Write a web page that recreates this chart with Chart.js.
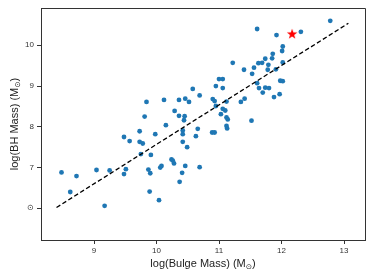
<!DOCTYPE html>
<html>
<head>
<meta charset="utf-8">
<script src="https://cdn.jsdelivr.net/npm/chart.js@4.4.0/dist/chart.umd.min.js"></script>
<style>
html, body { margin: 0; padding: 0; background: #fff; }
</style>
</head>
<body>
<canvas id="myChart" width="374" height="280"></canvas>
<script>
// values
const bulgeMass = [8.48, 8.72, 8.62, 9.04, 9.17, 9.25, 9.48, 9.51, 9.48, 9.57,
    9.73, 9.73, 9.78, 9.75, 9.91, 9.98, 9.81, 9.84, 10.12, 10.15,
    9.87, 9.90, 9.89, 10.04, 10.06, 10.08, 10.24, 10.26, 10.28, 10.37,
    10.41, 10.46, 10.29, 10.36, 10.46, 10.52, 10.58, 10.69, 10.36, 10.45,
    10.44, 10.42, 10.42, 10.42, 10.49, 10.63, 10.66, 10.69, 11.22, 11.40,
    11.00, 11.06, 11.06, 10.95, 10.90, 10.93, 10.95, 11.12, 11.06, 11.10,
    11.03, 11.12, 11.14, 11.12, 11.13, 10.89, 10.93, 11.52, 11.35, 11.41,
    11.53, 11.56, 11.63, 11.69, 11.74, 11.79, 11.78, 11.61, 11.64, 11.70,
    11.74, 11.80, 11.61, 11.92, 12.02, 12.01, 11.86, 11.85, 12.02, 11.91,
    11.98, 12.02, 11.97, 11.88, 12.31, 12.78];
const bhMass = [6.88, 6.79, 6.40, 6.94, 6.06, 6.93, 6.84, 6.96, 7.75, 7.65,
    7.89, 7.63, 7.59, 7.33, 7.31, 7.82, 8.25, 8.61, 8.66, 8.04,
    6.95, 6.86, 6.41, 6.20, 7.00, 7.04, 7.20, 7.17, 7.10, 6.65,
    6.87, 7.04, 8.39, 8.66, 8.69, 8.61, 8.93, 8.77, 8.27, 8.26,
    8.16, 7.91, 7.82, 7.63, 7.50, 7.77, 7.95, 7.01, 9.57, 9.40,
    9.17, 9.17, 8.95, 9.00, 8.68, 8.63, 8.51, 8.62, 8.44, 8.40,
    8.31, 8.23, 8.18, 8.02, 7.96, 7.86, 7.86, 8.15, 8.61, 8.69,
    9.30, 9.45, 9.56, 9.57, 9.67, 9.52, 9.40, 9.07, 8.95, 8.84,
    8.96, 8.95, 10.40, 10.25, 9.97, 9.86, 9.79, 9.68, 9.58, 9.41,
    9.13, 9.12, 8.80, 8.73, 10.33, 10.60];
const fitX = [8.40, 13.07];
const fitY = [6.02, 10.54];
const starX = [12.17];
const starY = [10.28];
const xTicks = [9, 10, 11, 12, 13];
const yTicks = [6, 7, 8, 9, 10];
const yTickLabels = ['\u2299', '7', '8', '9', '10'];

// filled red star marker
function makeStar() {
    const c = document.createElement('canvas');
    c.width = 12; c.height = 12;
    const g = c.getContext('2d');
    g.beginPath();
    for (let i = 0; i < 10; i++) {
        const r = i % 2 === 0 ? 5.5 : 2.2;
        const a = -Math.PI / 2 + i * Math.PI / 5;
        const px = 6 + r * Math.cos(a), py = 6.3 + r * Math.sin(a);
        if (i === 0) g.moveTo(px, py); else g.lineTo(px, py);
    }
    g.closePath();
    g.fillStyle = '#ff0000';
    g.fill();
    return c;
}

function drawSubTitle(ctx, main, sub, tail, x, y, rotate) {
    ctx.save();
    ctx.translate(x, y);
    if (rotate) ctx.rotate(-Math.PI / 2);
    const big = '11px "Liberation Sans", Arial, sans-serif';
    const small = '7.5px "DejaVu Sans", sans-serif';
    ctx.font = big;
    const w1 = ctx.measureText(main).width;
    const w3 = ctx.measureText(tail).width;
    ctx.font = small;
    const w2 = ctx.measureText(sub).width;
    let cx = -(w1 + w2 + w3) / 2;
    ctx.fillStyle = '#222';
    ctx.textBaseline = 'middle';
    ctx.textAlign = 'left';
    ctx.font = big;
    ctx.fillText(main, cx, 0);
    cx += w1;
    ctx.font = small;
    ctx.fillText(sub, cx, 3);
    cx += w2;
    ctx.font = big;
    ctx.fillText(tail, cx, 0);
    ctx.restore();
}

const framePlugin = {
    id: 'frame',
    afterDraw(chart) {
        const ctx = chart.ctx;
        const a = chart.chartArea;
        ctx.save();
        ctx.strokeStyle = '#333';
        ctx.lineWidth = 1;
        ctx.beginPath();
        ctx.moveTo(a.left, a.top + 0.5);
        ctx.lineTo(a.right + 0.5, a.top + 0.5);
        ctx.lineTo(a.right + 0.5, a.bottom);
        ctx.stroke();
        ctx.restore();
        const midX = (a.left + a.right) / 2;
        const midY = (a.top + a.bottom) / 2;
        drawSubTitle(ctx, 'log(Bulge Mass) (M', '\u2299', ')', midX, 264, false);
        drawSubTitle(ctx, 'log(BH Mass) (M', '\u2299', ')', 15, midY, true);
    }
};

const tickFont = { family: '"Liberation Sans", Arial, sans-serif', size: 8 };

new Chart(document.getElementById('myChart'), {
    type: 'scatter',
    data: {
        datasets: [{
            label: 'galaxies',
            data: bulgeMass.map((v, i) => ({ x: v, y: bhMass[i] })),
            backgroundColor: '#1f77b4',
            pointRadius: 2.4,
            pointBorderWidth: 0,
            order: 3
        }, {
            label: 'fit',
            type: 'line',
            data: fitX.map((v, i) => ({ x: v, y: fitY[i] })),
            borderColor: '#000',
            borderWidth: 1.3,
            borderDash: [4.5, 2.5],
            pointRadius: 0,
            fill: false,
            order: 2
        }, {
            label: 'star',
            data: starX.map((v, i) => ({ x: v, y: starY[i] })),
            pointStyle: makeStar(),
            order: 1
        }]
    },
    options: {
        responsive: false,
        animation: false,
        devicePixelRatio: 1,
        layout: { padding: { top: 8, right: 9, left: 0, bottom: 0 } },
        plugins: { legend: { display: false }, tooltip: { enabled: false } },
        scales: {
            x: {
                type: 'linear',
                min: 8.152,
                max: 13.336,
                afterBuildTicks: s => { s.ticks = xTicks.map(v => ({ value: v })); },
                afterFit: s => { s.height = 40; },
                grid: { drawOnChartArea: false, drawTicks: true, tickLength: 4, tickColor: '#333' },
                border: { color: '#333', width: 1 },
                ticks: { font: tickFont, color: '#333', padding: 2, maxRotation: 0 }
            },
            y: {
                type: 'linear',
                min: 5.222,
                max: 10.915,
                afterBuildTicks: s => { s.ticks = yTicks.map(v => ({ value: v })); },
                afterFit: s => { s.width = 41; },
                grid: { drawOnChartArea: false, drawTicks: true, tickLength: 4, tickColor: '#333' },
                border: { color: '#333', width: 1 },
                ticks: {
                    font: tickFont, color: '#333', padding: 3,
                    callback: v => yTickLabels[yTicks.indexOf(v)]
                }
            }
        }
    },
    plugins: [framePlugin]
});
</script>
</body>
</html>
